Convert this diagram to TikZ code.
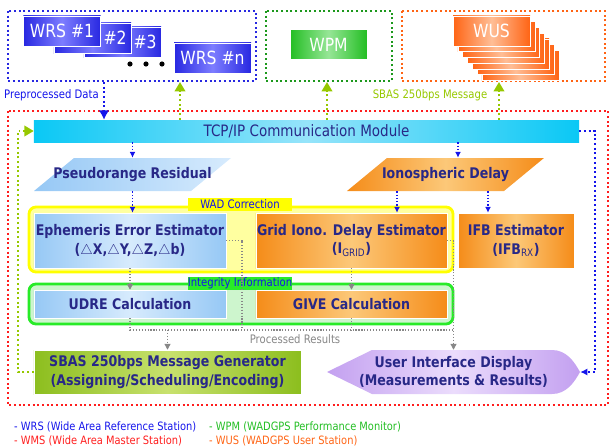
\documentclass[tikz,border=0pt]{standalone}
\usepackage{fontspec}
\setmainfont{DejaVu Sans}[FakeStretch=0.86]
\usetikzlibrary{arrows.meta,calc}
\definecolor{TxtClr}{RGB}{40,40,135}
\definecolor{WrsClr}{RGB}{40,40,225}
\definecolor{WrsLgt}{RGB}{125,125,255}
\definecolor{WmsClr}{RGB}{255,30,30}
\definecolor{WpmClr}{RGB}{35,190,35}
\definecolor{WpmLgt}{RGB}{150,230,150}
\definecolor{WusClr}{RGB}{255,100,20}
\definecolor{WusLgt}{RGB}{255,190,150}
\definecolor{MsgClr}{RGB}{150,200,0}
\definecolor{TcpClr}{RGB}{10,200,245}
\definecolor{TcpLgt}{RGB}{150,228,250}
\definecolor{BluClr}{RGB}{150,200,245}
\definecolor{BluLgt}{RGB}{215,235,253}
\definecolor{OrgClr}{RGB}{245,140,25}
\definecolor{OrgLgt}{RGB}{252,200,120}
\definecolor{GenClr}{RGB}{140,190,30}
\definecolor{GenLgt}{RGB}{200,225,110}
\definecolor{UidClr}{RGB}{195,160,240}
\definecolor{UidLgt}{RGB}{235,220,252}
\definecolor{WadClr}{RGB}{255,255,0}
\definecolor{WadLgt}{RGB}{255,255,160}
\definecolor{IntClr}{RGB}{40,235,40}
\definecolor{IntLgt}{RGB}{205,245,205}
\definecolor{LinkClr}{RGB}{20,20,235}
\definecolor{ResClr}{RGB}{135,135,135}

\begin{document}
\begin{tikzpicture}[x=0.03cm,y=-0.03cm,
  frm/.style={line width=1.7pt,dash pattern=on 1.7pt off 2.3pt},
  box/.style={rectangle,draw=white,line width=0.4pt,text=TxtClr,align=center,inner sep=0pt,
    font=\bfseries\fontsize{12.5}{16}\selectfont},
  blubox/.style={box,left color=BluClr,right color=BluClr,middle color=BluLgt},
  orgbox/.style={box,left color=OrgClr,right color=OrgClr,middle color=OrgLgt},
  stnbox/.style={rectangle,draw=white,line width=0.4pt,text=white,inner sep=0pt,
    minimum width=2.31cm,minimum height=0.9cm,font=\fontsize{15.5}{17}\selectfont},
  wrsbox/.style={stnbox,left color=WrsClr,right color=WrsClr,middle color=WrsLgt},
  wusbox/.style={stnbox,left color=WusClr,right color=WusClr,middle color=WusLgt},
  tab/.style={rectangle,inner sep=0pt,minimum width=3.12cm,minimum height=0.39cm,
    text=LinkClr,font=\fontsize{10}{11}\selectfont},
  lbl/.style={inner sep=0pt,font=\fontsize{10}{11}\selectfont},
  lgd/.style={inner sep=0pt,anchor=west,font=\fontsize{9.8}{11}\selectfont},
  lnk/.style={draw=LinkClr,line width=1.2pt,dash pattern=on 1.2pt off 1.6pt,
    -{Latex[length=5pt,width=5pt]}},
  feed/.style={draw=MsgClr,frm,-{Triangle[length=8pt,width=9pt]}},
  res/.style={draw=ResClr,line width=1pt,dash pattern=on 1pt off 1.5pt},
  resarr/.style={res,-{Triangle[length=5pt,width=5pt]}}]
\useasboundingbox (0,0) rectangle (611,448);

\draw[frm,draw=WrsClr] (8,11) rectangle (256,81);
\draw[frm,draw=WpmClr!80!black] (266,11) rectangle (392,81);
\draw[frm,draw=WusClr] (402,11) rectangle (605,81);
\draw[frm,draw=WmsClr] (8,111) rectangle (608,405);

\node[wrsbox,text width=2.05cm,align=right] (wrs3) at (122.5,42) {\#3};
\node[wrsbox,text width=2.05cm,align=right] (wrs2) at (92.5,38) {\#2};
\node[wrsbox] (wrs1) at (62,31) {WRS \#1};
\node[wrsbox] (wrsn) at (212.5,58) {WRS \#n};
\foreach \x in {130,146,162}
  \fill (\x,64) circle (2.6);
\node[stnbox,left color=WpmClr,right color=WpmClr,middle color=WpmLgt] (wpm) at (328.5,44.5) {WPM};
\foreach \i in {6,5,...,1}
  \node[wusbox] (wus\i) at ({491.5+4.8*\i},{31+5.7*\i}) {};
\node[wusbox] (wus) at (491.5,31) {WUS};

\coordinate (wrsout) at (104,82);
\node[lbl,text=LinkClr] (pdlbl) at (51.5,95) {Preprocessed Data};
\node[lbl,text=MsgClr] (msglbl) at (430,95) {SBAS 250bps Message};

\node[rectangle,left color=TcpClr,right color=TcpClr,middle color=TcpLgt,text=TxtClr,
  minimum width=16.35cm,minimum height=0.66cm,inner sep=0pt,
  font=\fontsize{13.4}{15}\selectfont] (tcp) at (306.5,131) {TCP/IP Communication Module};

\shade[left color=BluClr,right color=BluLgt] (34,191) -- (74,158) -- (231,158) -- (191,191) -- cycle;
\node[box,minimum width=5.91cm,minimum height=0.99cm,draw=none] (pr) at (132.5,174.5) {Pseudorange Residual};
\shade[left color=OrgClr,right color=OrgClr,middle color=OrgLgt] (347,191) -- (387,158) -- (544,158) -- (504,191) -- cycle;
\node[box,minimum width=5.91cm,minimum height=0.99cm,draw=none] (io) at (445.5,174.5) {Ionospheric Delay};

\draw[rounded corners=6pt,line width=2.4pt,draw=WadClr,fill=WadLgt] (29,207) rectangle (453,272);
\node[tab,fill=WadClr] (wadlbl) at (240,204) {WAD Correction};
\draw[rounded corners=6pt,line width=2.4pt,draw=IntClr,fill=IntLgt] (29,284) rectangle (453,324);
\node[tab,fill=IntClr] (intlbl) at (240,283.5) {Integrity Information};

\node[blubox,minimum width=5.76cm,minimum height=1.65cm] (eph) at (130,240.5)
  {Ephemeris Error Estimator\\($\triangle$X,$\triangle$Y,$\triangle$Z,$\triangle$b)};
\node[orgbox,minimum width=5.73cm,minimum height=1.65cm] (grid) at (351.5,240.5)
  {Grid Iono. Delay Estimator\\(I\textsubscript{\mdseries GRID})};
\node[orgbox,minimum width=3.48cm,minimum height=1.65cm] (ifb) at (516,240.5)
  {IFB Estimator\\(IFB\textsubscript{\mdseries RX})};
\node[blubox,minimum width=5.76cm,minimum height=0.84cm] (udre) at (130,304) {UDRE Calculation};
\node[orgbox,minimum width=5.73cm,minimum height=0.84cm] (give) at (351.5,304) {GIVE Calculation};

\node[box,left color=GenClr,right color=GenClr,middle color=GenLgt,minimum width=8.01cm,minimum height=1.32cm]
  (sbas) at (167.5,372) {SBAS 250bps Message Generator\\(Assigning/Scheduling/Encoding)};
\shade[left color=UidClr,right color=UidClr,middle color=UidLgt] (327,372) -- (372,350) -- (552,350)
  .. controls (566,350) and (574,361) .. (580,372) .. controls (574,383) and (566,394) .. (552,394)
  -- (372,394) -- cycle;
\node[box,draw=none,minimum width=7.59cm,minimum height=1.32cm] (ui) at (453.5,372)
  {User Interface Display\\(Measurements \& Results)};

\draw[draw=LinkClr,frm,-{Latex[length=8pt,width=9pt]}] (wrsout) -- (wrsout |- tcp.north);
\foreach \f/\x in {wrs/180,wpm/327,wus/499}
  \draw[feed] (tcp.north -| \x,0) -- (\x,82);
\draw[lnk] (tcp.south -| pr.north) -- (pr.north);
\coordinate (i1) at ([xshift=0.375cm]io.north);
\draw[lnk] (tcp.south -| i1) -- (i1);
\draw[lnk] (pr.south) -- (pr.south |- eph.north);
\coordinate (g1) at ([xshift=1.365cm]grid.north);
\draw[lnk] (io.south -| g1) -- (g1);
\coordinate (f1) at ([xshift=-0.84cm]ifb.north);
\draw[lnk] (io.south -| f1) -- (f1);

\coordinate (busw) at (130,330);
\coordinate (ejoin) at (242,330);
\draw[resarr] (eph.south) -- (udre.north);
\draw[resarr] (grid.south) -- (give.north);
\draw[res] (udre.south) -- (busw) -- (busw -| ui.north);
\draw[res] (eph.east) -| (ejoin);
\draw[res] (give.south) -- (give.south |- busw);
\draw[resarr] (grid.east) -| (ui.north);
\draw[resarr] (busw -| sbas.north) -- (sbas.north);
\node[lbl,text=ResClr] (reslbl) at (295,339) {Processed Results};

\draw[feed] (sbas.west) -- ++(-16,0) |- (tcp.west);
\draw[lnk,frm,-{Latex[length=6pt,width=6pt]}] (tcp.east) -- ++(16,0) |- (ui.east);

\node[lgd,text=LinkClr] (lgwrs) at (14,427) {- WRS (Wide Area Reference Station)};
\node[lgd,text=WmsClr] (lgwms) at (14,441) {- WMS (Wide Area Master Station)};
\node[lgd,text=WpmClr] (lgwpm) at (209,427) {- WPM (WADGPS Performance Monitor)};
\node[lgd,text=WusClr] (lgwus) at (209,441) {- WUS (WADGPS User Station)};
\end{tikzpicture}
\end{document}
